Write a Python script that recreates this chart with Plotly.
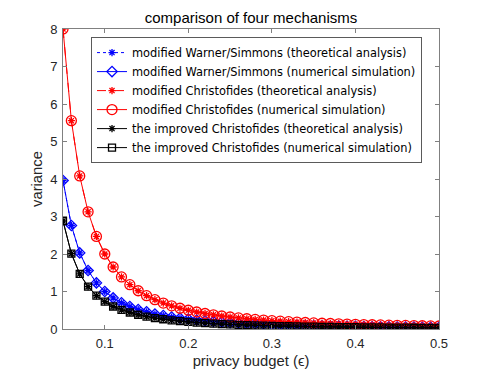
import plotly.graph_objects as go

# privacy budget values (x axis)
epsilon = [
    0.05, 0.06, 0.07, 0.08, 0.09, 0.10, 0.11, 0.12, 0.13, 0.14,
    0.15, 0.16, 0.17, 0.18, 0.19, 0.20, 0.21, 0.22, 0.23, 0.24,
    0.25, 0.26, 0.27, 0.28, 0.29, 0.30, 0.31, 0.32, 0.33, 0.34,
    0.35, 0.36, 0.37, 0.38, 0.39, 0.40, 0.41, 0.42, 0.43, 0.44,
    0.45, 0.46, 0.47, 0.48, 0.49, 0.50,
]

warner_theory = [
    3.96, 2.76, 2.03, 1.56, 1.23, 1.00, 0.83, 0.70, 0.60, 0.52,
    0.46, 0.40, 0.36, 0.32, 0.29, 0.265, 0.24, 0.22, 0.20, 0.185,
    0.17, 0.158, 0.147, 0.137, 0.128, 0.12, 0.112, 0.105, 0.099, 0.093,
    0.088, 0.083, 0.078, 0.074, 0.070, 0.067, 0.063, 0.060, 0.058, 0.055,
    0.053, 0.050, 0.048, 0.046, 0.044, 0.042,
]
warner_sim = list(warner_theory)

christofides_theory = [
    8.00, 5.556, 4.082, 3.125, 2.469, 2.00, 1.653, 1.389, 1.183, 1.020,
    0.889, 0.781, 0.692, 0.617, 0.554, 0.50, 0.454, 0.413, 0.378, 0.347,
    0.32, 0.296, 0.274, 0.255, 0.238, 0.222, 0.208, 0.195, 0.184, 0.173,
    0.163, 0.154, 0.146, 0.139, 0.131, 0.125, 0.119, 0.113, 0.108, 0.103,
    0.099, 0.095, 0.091, 0.087, 0.083, 0.080,
]
christofides_sim = list(christofides_theory)

improved_theory = [
    2.88, 2.01, 1.47, 1.13, 0.89, 0.73, 0.60, 0.51, 0.44, 0.38,
    0.33, 0.29, 0.26, 0.23, 0.21, 0.19, 0.17, 0.156, 0.143, 0.131,
    0.121, 0.112, 0.104, 0.097, 0.090, 0.084, 0.079, 0.074, 0.069, 0.065,
    0.062, 0.058, 0.055, 0.052, 0.049, 0.047, 0.045, 0.043, 0.041, 0.039,
    0.037, 0.035, 0.034, 0.032, 0.031, 0.030,
]
improved_sim = list(improved_theory)

names = [
    "modified Warner/Simmons (theoretical analysis)",
    "modified Warner/Simmons (numerical simulation)",
    "modified Christofides (theoretical analysis)",
    "modified Christofides (numerical simulation)",
    "the improved Christofides (theoretical analysis)",
    "the improved Christofides (numerical simulation)",
]

FONT = "Liberation Sans, Arial, Helvetica, sans-serif"
LEGEND_FONT = "DejaVu Sans, sans-serif"
TEXT = "#262626"
AXIS = "#808080"

styles = [
    (warner_theory, "blue", "dot", "asterisk-open", 6),
    (warner_sim, "blue", "solid", "diamond-open", 8),
    (christofides_theory, "red", "dash", "asterisk-open", 6),
    (christofides_sim, "red", "solid", "circle-open", 10),
    (improved_theory, "black", "solid", "asterisk-open", 6),
    (improved_sim, "black", "solid", "square-open", 7),
]

fig = go.Figure()
for name, (values, color, dash, symbol, size) in zip(names, styles):
    fig.add_trace(go.Scatter(
        x=epsilon,
        y=values,
        name=name,
        mode="lines+markers",
        line=dict(color=color, width=1, dash=dash),
        marker=dict(symbol=symbol, size=size, color=color, line=dict(color=color, width=1.3)),
    ))

axis_common = dict(
    showline=True,
    linecolor=AXIS,
    linewidth=1,
    mirror="ticks",
    ticks="inside",
    ticklen=4,
    tickcolor=AXIS,
    showgrid=False,
    zeroline=False,
    ticklabelstandoff=2,
    tickfont=dict(family=FONT, size=13, color=TEXT),
)

fig.update_layout(
    width=485,
    height=372,
    paper_bgcolor="white",
    plot_bgcolor="white",
    margin=dict(l=55, r=54, t=21, b=51),
    font=dict(family=FONT, color=TEXT),
    title=dict(
        text="comparison of four mechanisms",
        x=0.5, xref="paper", xanchor="center",
        y=0.974, yref="container", yanchor="middle",
        font=dict(family=FONT, size=15, color="black"),
    ),
    xaxis=dict(
        range=[0.05, 0.5],
        tickvals=[0.1, 0.2, 0.3, 0.4, 0.5],
        ticktext=["0.1", "0.2", "0.3", "0.4", "0.5"],
        title=dict(text="privacy budget (ϵ)", standoff=6, font=dict(family=FONT, size=14.8, color=TEXT)),
        automargin=False,
        **axis_common,
    ),
    yaxis=dict(
        range=[0, 8],
        tickvals=[0, 1, 2, 3, 4, 5, 6, 7, 8],
        title=dict(text="variance", standoff=3, font=dict(family=FONT, size=14.8, color=TEXT)),
        automargin=False,
        **axis_common,
    ),
    legend=dict(
        x=0.0745, y=0.973, xref="paper", yref="paper",
        xanchor="left", yanchor="top",
        bgcolor="white",
        bordercolor="#5a5a5a",
        borderwidth=1,
        font=dict(family=LEGEND_FONT, size=11.4, color="black"),
        tracegroupgap=0,
        itemwidth=30,
    ),
    showlegend=True,
)

fig.write_html("out.html")
